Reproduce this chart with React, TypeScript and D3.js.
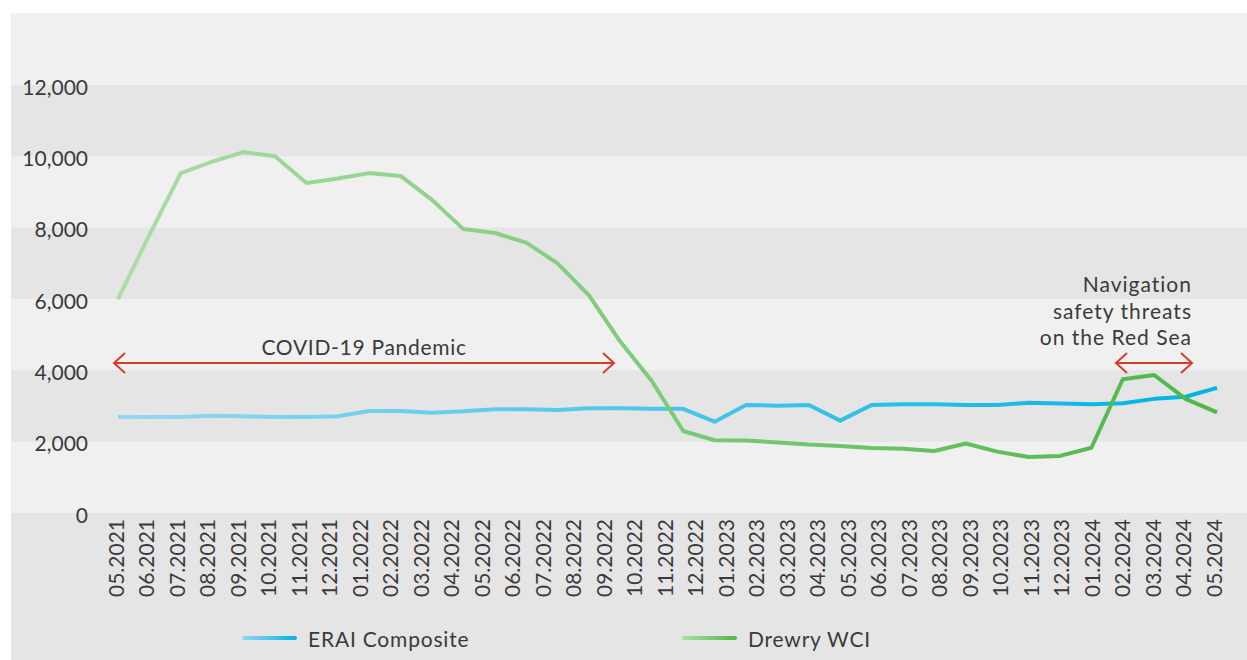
import React from "react";
import * as d3 from "d3";

const monthLabels = [
  "05.2021", "06.2021", "07.2021", "08.2021", "09.2021", "10.2021", "11.2021", "12.2021",
  "01.2022", "02.2022", "03.2022", "04.2022", "05.2022", "06.2022", "07.2022", "08.2022",
  "09.2022", "10.2022", "11.2022", "12.2022", "01.2023", "02.2023", "03.2023", "04.2023",
  "05.2023", "06.2023", "07.2023", "08.2023", "09.2023", "10.2023", "11.2023", "12.2023",
  "01.2024", "02.2024", "03.2024", "04.2024", "05.2024",
];

const eraiComposite = [
  2690, 2690, 2690, 2730, 2710, 2690, 2690, 2710, 2860, 2860, 2810, 2850,
  2910, 2910, 2890, 2940, 2940, 2920, 2920, 2560, 3030, 3010, 3030, 2590,
  3030, 3050, 3050, 3030, 3030, 3090, 3070, 3050, 3080, 3200, 3260, 3510,
];

const drewryWCI = [
  6000, 7800, 9530, 9850, 10120, 10000, 9250, 9380, 9530, 9450, 8780, 7960,
  7850, 7580, 7000, 6100, 4800, 3700, 2300, 2040, 2030, 1980, 1920, 1880,
  1820, 1800, 1740, 1950, 1720, 1570, 1600, 1830, 3750, 3870, 3200, 2820,
];

const yTicks = [0, 2000, 4000, 6000, 8000, 10000, 12000];

const FONT = "Lato, 'Noto Sans', sans-serif";
const TEXT = "#3a3a3a";
const RED = "#d2402c";

export default function App() {
  const W = 1247;
  const H = 660;
  const y = d3.scaleLinear().domain([0, 12000]).range([513, 85]);
  const xLabel = d3.scalePoint<string>().domain(monthLabels).range([116, 1214]);
  const xLine = d3.scaleLinear().domain([0, eraiComposite.length - 1]).range([118, 1217]);
  const line = d3
    .line<number>()
    .x((_, i) => xLine(i))
    .y((d) => y(d));
  const fmt = d3.format(",");

  const bands: [number, number][] = [];
  for (let i = 1; i < yTicks.length - 1; i += 2) bands.push([yTicks[i], yTicks[i + 1]]);

  const arrow = (x1: number, x2: number, yy: number) => {
    const a = 11;
    const b = 10;
    return (
      <g stroke={RED} strokeWidth={2} fill="none">
        <line x1={x1} y1={yy} x2={x2} y2={yy} />
        <polyline points={`${x1 + a},${yy - b} ${x1},${yy} ${x1 + a},${yy + b}`} />
        <polyline points={`${x2 - a},${yy - b} ${x2},${yy} ${x2 - a},${yy + b}`} />
      </g>
    );
  };

  return (
    <svg
      width={W}
      height={H}
      style={{ position: "absolute", left: 0, top: 0, display: "block" }}
      fontFamily={FONT}
    >
      <defs>
        <linearGradient id="gBlue" gradientUnits="userSpaceOnUse" x1={118} y1={0} x2={1217} y2={0}>
          <stop offset="0" stopColor="#94d8ef" />
          <stop offset="1" stopColor="#00b4e2" />
        </linearGradient>
        <linearGradient id="gGreen" gradientUnits="userSpaceOnUse" x1={118} y1={0} x2={1217} y2={0}>
          <stop offset="0" stopColor="#acdda6" />
          <stop offset="1" stopColor="#4cb847" />
        </linearGradient>
        <linearGradient id="lgBlue" x1="0" y1="0" x2="1" y2="0">
          <stop offset="0" stopColor="#94d8ef" />
          <stop offset="1" stopColor="#00b4e2" />
        </linearGradient>
        <linearGradient id="lgGreen" x1="0" y1="0" x2="1" y2="0">
          <stop offset="0" stopColor="#acdda6" />
          <stop offset="1" stopColor="#4cb847" />
        </linearGradient>
      </defs>

      <rect x={11} y={13} width={W - 11} height={H - 13} fill="#f0f0f0" />
      <rect x={11} y={y(0)} width={W - 11} height={H - y(0)} fill="#e5e5e5" />
      {bands.map(([a, b]) => (
        <rect key={a} x={11} y={y(b)} width={W - 11} height={y(a) - y(b)} fill="#e5e5e5" />
      ))}

      {yTicks.map((t) => (
        <text key={t} x={88} y={y(t) + 9.5} textAnchor="end" fontSize={21} fill={TEXT}>
          {fmt(t)}
        </text>
      ))}

      {monthLabels.map((m) => (
        <text
          key={m}
          transform={`translate(${(xLabel(m) as number) + 7.5},519) rotate(-90)`}
          textAnchor="end"
          fontSize={21}
          fill={TEXT}
        >
          {m}
        </text>
      ))}

      <path d={line(eraiComposite) || ""} fill="none" stroke="url(#gBlue)" strokeWidth={4} strokeLinejoin="round" />
      <path d={line(drewryWCI) || ""} fill="none" stroke="url(#gGreen)" strokeWidth={4} strokeLinejoin="round" />

      {arrow(114, 614, 363)}
      <text x={364} y={355} textAnchor="middle" fontSize={21} letterSpacing={0.7} fill={TEXT}>
        COVID-19 Pandemic
      </text>

      {arrow(1116, 1192, 363)}
      <text textAnchor="end" fontSize={21} letterSpacing={1} fill={TEXT}>
        <tspan x={1192} y={292}>Navigation</tspan>
        <tspan x={1192} y={318.5}>safety threats</tspan>
        <tspan x={1192} y={345}>on the Red Sea</tspan>
      </text>

      <rect x={242} y={636} width={55} height={4} rx={2} fill="url(#lgBlue)" />
      <text x={308} y={647} fontSize={21} letterSpacing={0.8} fill={TEXT}>ERAI Composite</text>
      <rect x={682} y={636} width={55} height={4} rx={2} fill="url(#lgGreen)" />
      <text x={748} y={647} fontSize={21} letterSpacing={0.8} fill={TEXT}>Drewry WCI</text>
    </svg>
  );
}
